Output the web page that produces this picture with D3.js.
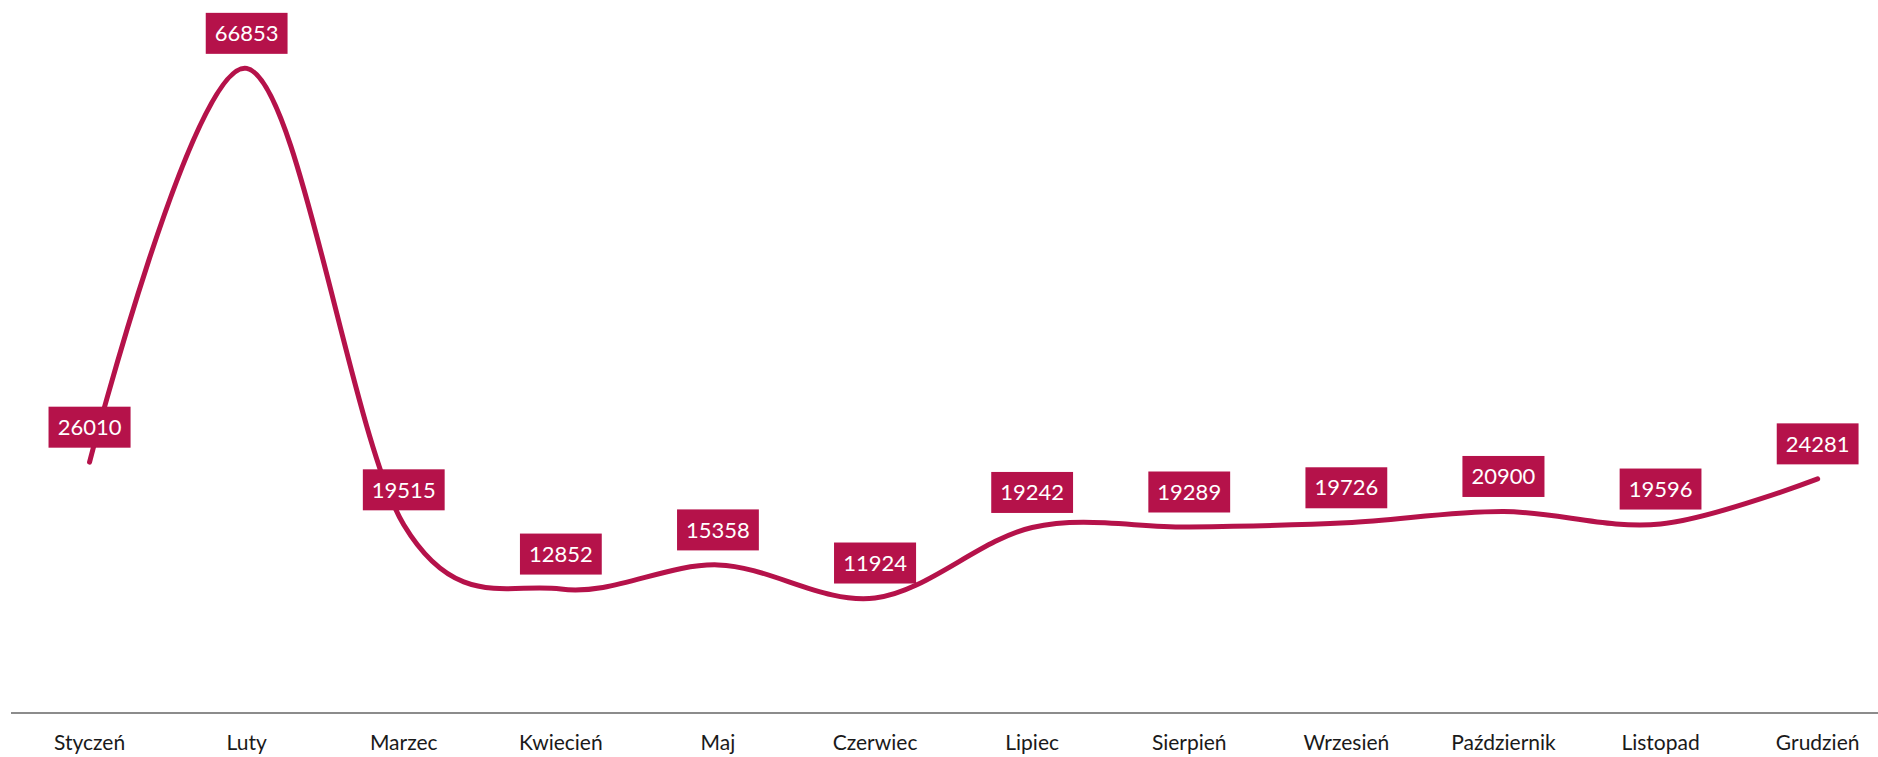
<!DOCTYPE html>
<html>
<head>
<meta charset="utf-8">
<script src="https://cdn.jsdelivr.net/npm/d3@7"></script>
<style>
  html, body { margin: 0; padding: 0; background: #fff; }
  svg { display: block; font-family: Lato, 'Open Sans', sans-serif; }
</style>
</head>
<body>
<div id="chart"></div>
<script>
// months and monthly totals
const months = ['Styczeń', 'Luty', 'Marzec', 'Kwiecień', 'Maj', 'Czerwiec', 'Lipiec', 'Sierpień', 'Wrzesień', 'Październik', 'Listopad', 'Grudzień']
const values = [26010, 66853, 19515, 12852, 15358, 11924, 19242, 19289, 19726, 20900, 19596, 24281]
const yDomain = [0, 70000]

const color = '#b5124a'
const dimensions = {
  width: 1878,
  height: 757,
  margin: {
    top: 38,
    right: 0,
    bottom: 44,
    left: 11
  }
}
const bandWidth = 157.1

const data = months.map((m, i) => ({ month: m, value: values[i] }))

const svg = d3.select('#chart')
  .append('svg')
  .attr('width', dimensions.width)
  .attr('height', dimensions.height)

// the plot area runs a bit past the right edge, like in the original
const xScale = d3.scaleBand()
  .domain(months)
  .range([dimensions.margin.left, dimensions.margin.left + bandWidth * months.length])

const yScale = d3.scaleLinear()
  .domain(yDomain)
  .range([dimensions.height - dimensions.margin.bottom, dimensions.margin.top])

const xPos = d => xScale(d.month) + xScale.bandwidth() / 2

// x axis
const xAxisContainer = svg.append('g')
  .attr('transform', `translate(0, ${yScale(0)})`)
xAxisContainer.call(d3.axisBottom(xScale).tickSize(0).tickPadding(22))
xAxisContainer.select('.domain')
  .attr('d', `M${dimensions.margin.left},0H${dimensions.width}`)
  .attr('stroke', '#8c8c8c')
  .attr('stroke-width', 2)
xAxisContainer.selectAll('text')
  .attr('font-family', 'Lato, sans-serif')
  .attr('font-size', 21)
  .attr('fill', '#1a1a1a')

// smoothed line
const line = d3.line()
  .x(xPos)
  .y(d => yScale(d.value))
  .curve(d3.curveCardinal.tension(0))

svg.append('path')
  .datum(data)
  .attr('fill', 'none')
  .attr('stroke', color)
  .attr('stroke-width', 5)
  .attr('stroke-linecap', 'round')
  .attr('stroke-linejoin', 'round')
  .attr('d', line)

// data labels, boxed, sitting above each point
const labels = svg.selectAll('.label')
  .data(data)
  .join('g')
  .attr('class', 'label')
  .attr('transform', d => `translate(${xPos(d)}, ${yScale(d.value) - 35})`)

labels.append('rect')
  .attr('fill', color)

labels.append('text')
  .text(d => d.value)
  .attr('text-anchor', 'middle')
  .attr('dy', '0.35em')
  .attr('font-size', 22)
  .attr('fill', '#fff')

labels.each(function () {
  const g = d3.select(this)
  const box = g.select('text').node().getBBox()
  const w = box.width + 18
  const h = 41
  g.select('rect')
    .attr('x', -w / 2)
    .attr('y', -h / 2)
    .attr('width', w)
    .attr('height', h)
})
</script>
</body>
</html>
